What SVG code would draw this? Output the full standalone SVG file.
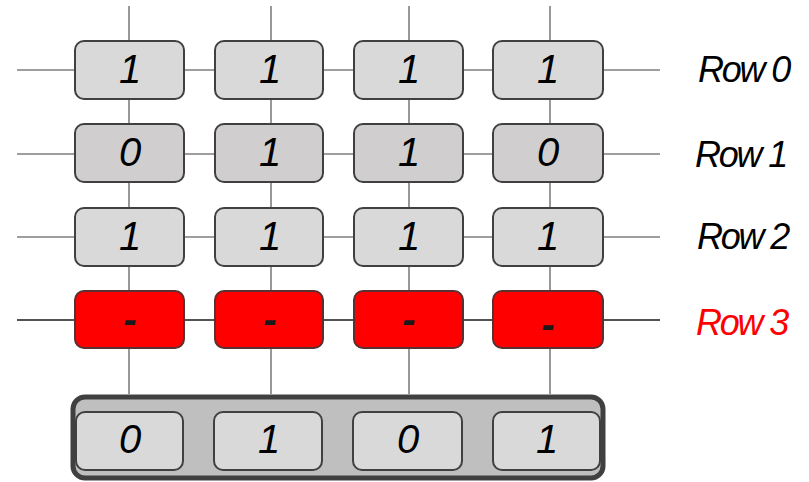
<svg xmlns="http://www.w3.org/2000/svg" width="809" height="482" viewBox="0 0 809 482">
<style>
.ln{stroke:#7f7f7f;stroke-width:1.6;fill:none}
.lk{stroke:#1a1a1a;stroke-width:1.4;fill:none}
.c{stroke:#404040;stroke-width:2;fill:#d9d9d9}
.c1{stroke:#404040;stroke-width:2;fill:#d0cece}
.r{stroke:#5a3030;stroke-width:2;fill:#ff0000}
.t{font-family:"Liberation Sans",Arial,sans-serif;font-style:italic;font-size:40px;text-anchor:middle;fill:#000}
.d{font-family:"Liberation Sans",Arial,sans-serif;font-style:italic;font-weight:bold;font-size:40px;text-anchor:middle;fill:#1a1a1a}
.lab{font-family:"Liberation Sans",Arial,sans-serif;font-style:italic;font-size:36px;letter-spacing:-2.2px;fill:#000}
</style>
<g id="connectors">
<path class="ln" d="M129,6V394M271,6V394M409,6V394M550,6V394"/>
<path class="ln" d="M17,70H660M17,154H660M17,237H660"/>
<path class="lk" d="M17,320H660"/>
</g>
<g id="output">
<rect x="73" y="397" width="530" height="81" rx="12" fill="#bfbfbf" stroke="#404040" stroke-width="5"/>
</g>
<g id="row0">
<rect class="c" x="75" y="41" width="109" height="58" rx="9"/><text class="t" x="130" y="83">1</text>
<rect class="c" x="215" y="41" width="108" height="58" rx="9"/><text class="t" x="270" y="83">1</text>
<rect class="c" x="354" y="41" width="109" height="58" rx="9"/><text class="t" x="409" y="83">1</text>
<rect class="c" x="493" y="41" width="110" height="58" rx="9"/><text class="t" x="548" y="83">1</text>
</g>
<g id="row1">
<rect class="c1" x="75" y="124" width="109" height="58" rx="9"/><text class="t" x="130" y="166">0</text>
<rect class="c1" x="215" y="124" width="108" height="58" rx="9"/><text class="t" x="270" y="166">1</text>
<rect class="c1" x="354" y="124" width="109" height="58" rx="9"/><text class="t" x="409" y="166">1</text>
<rect class="c1" x="493" y="124" width="110" height="58" rx="9"/><text class="t" x="548" y="166">0</text>
</g>
<g id="row2">
<rect class="c" x="75" y="208" width="109" height="58" rx="9"/><text class="t" x="130" y="250">1</text>
<rect class="c" x="215" y="208" width="108" height="58" rx="9"/><text class="t" x="270" y="250">1</text>
<rect class="c" x="354" y="208" width="109" height="58" rx="9"/><text class="t" x="409" y="250">1</text>
<rect class="c" x="493" y="208" width="110" height="58" rx="9"/><text class="t" x="548" y="250">1</text>
</g>
<g id="row3">
<rect class="r" x="75" y="291" width="109" height="57" rx="9"/><text class="d" x="130" y="333">-</text>
<rect class="r" x="215" y="291" width="108" height="57" rx="9"/><text class="d" x="270" y="333">-</text>
<rect class="r" x="354" y="291" width="109" height="57" rx="9"/><text class="d" x="409" y="333">-</text>
<rect class="r" x="493" y="291" width="110" height="57" rx="9"/><text class="d" x="548" y="338">-</text>
</g>
<g id="result">
<rect class="c" x="76" y="412" width="107" height="58" rx="9"/><text class="t" x="130" y="453">0</text>
<rect class="c" x="214" y="412" width="108" height="58" rx="9"/><text class="t" x="269" y="453">1</text>
<rect class="c" x="353" y="412" width="109" height="58" rx="9"/><text class="t" x="408" y="453">0</text>
<rect class="c" x="493" y="412" width="107" height="58" rx="9"/><text class="t" x="547" y="453">1</text>
</g>
<g id="labels">
<text class="lab" x="698" y="82">Row 0</text>
<text class="lab" x="695" y="167">Row 1</text>
<text class="lab" x="697" y="249">Row 2</text>
<text class="lab" x="696" y="335" fill="#ff0000" style="fill:#ff0000">Row 3</text>
</g>
</svg>
